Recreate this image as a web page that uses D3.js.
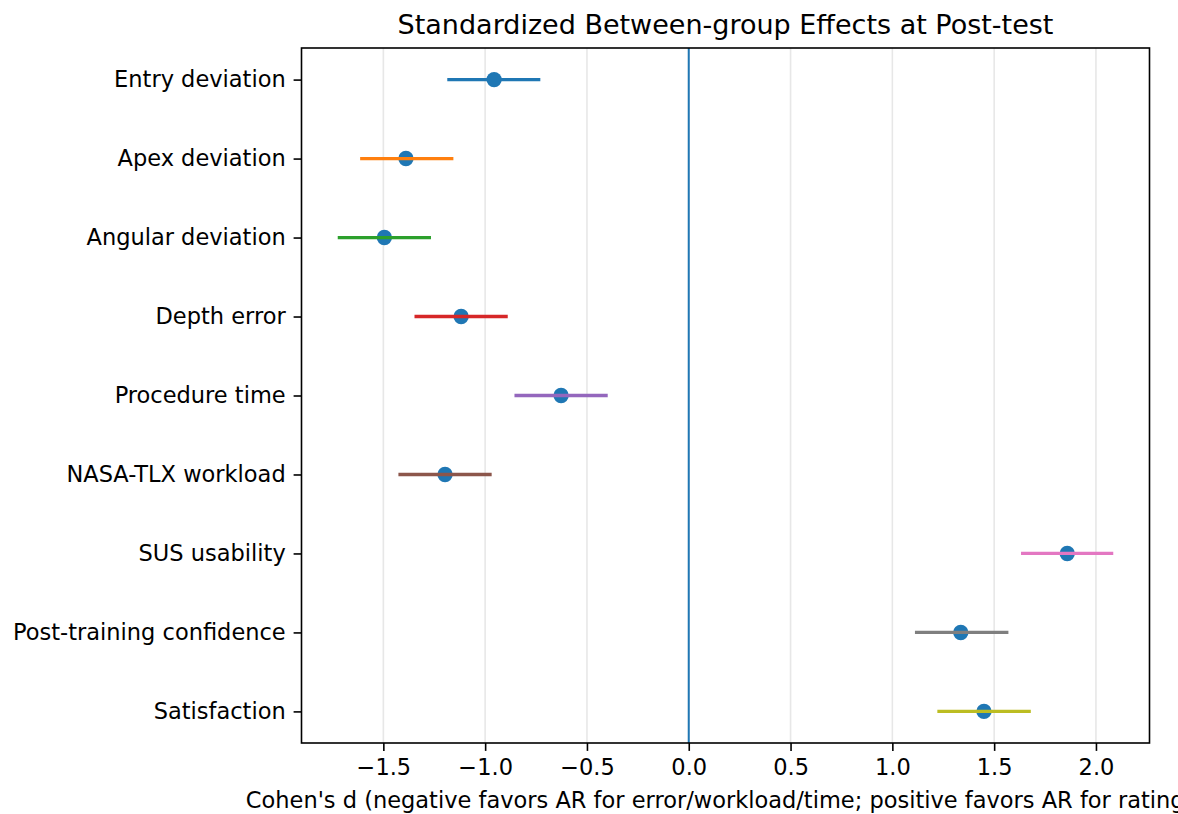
<!DOCTYPE html>
<html><head><meta charset="utf-8">
<script src="https://cdn.jsdelivr.net/npm/d3@7"></script>
<style>
body{margin:0;background:#fff;}
svg{display:block;font-family:"DejaVu Sans",sans-serif;}
</style></head>
<body><svg id="c" width="1178" height="814"></svg>
<script>
const categories = ["Entry deviation","Apex deviation","Angular deviation","Depth error","Procedure time","NASA-TLX workload","SUS usability","Post-training confidence","Satisfaction"];
const effects = [-0.956,-1.389,-1.495,-1.118,-0.627,-1.197,1.859,1.336,1.450];
const ciLow  = [-1.186,-1.614,-1.724,-1.347,-0.856,-1.426,1.632,1.111,1.221];
const ciHigh = [-0.729,-1.156,-1.266,-0.889,-0.398,-0.968,2.085,1.570,1.680];
const lineColors = ["#1f77b4","#ff7f0e","#2ca02c","#d62728","#9467bd","#8c564b","#e377c2","#7f7f7f","#bcbd22"];
const xTicks = [-1.5,-1.0,-0.5,0.0,0.5,1.0,1.5,2.0];

const L=301.5,R=1149.5,T=48,B=743;
const FS=22.5;
const svg=d3.select("#c");
const x=d3.scaleLinear().domain([-1.902,2.263]).range([L,R]);
const y=d3.scaleLinear().domain([-0.4,categories.length-1+0.4]).range([T,B]);

// grid
svg.append("g").selectAll("line").data(xTicks).join("line")
 .attr("x1",d=>x(d)).attr("x2",d=>x(d)).attr("y1",T).attr("y2",B)
 .attr("stroke","#b0b0b0").attr("stroke-opacity",0.3).attr("stroke-width",1.6);

// zero line
svg.append("line").attr("x1",x(0)).attr("x2",x(0)).attr("y1",T).attr("y2",B)
 .attr("stroke","#1f77b4").attr("stroke-width",2);

// points
svg.append("g").selectAll("circle").data(effects).join("circle")
 .attr("cx",d=>x(d)).attr("cy",(d,i)=>y(i)).attr("r",7.7).attr("fill","#1f77b4");

// CI lines
svg.append("g").selectAll("line").data(categories).join("line")
 .attr("x1",(d,i)=>x(ciLow[i])).attr("x2",(d,i)=>x(ciHigh[i]))
 .attr("y1",(d,i)=>y(i)).attr("y2",(d,i)=>y(i))
 .attr("stroke",(d,i)=>lineColors[i]).attr("stroke-width",3.3);

// axes
const xa=svg.append("g").attr("transform",`translate(0,${B})`)
 .call(d3.axisBottom(x).tickValues(xTicks).tickSize(7.9).tickPadding(7.9).tickFormat(d=>d3.format(".1f")(d).replace("-","\u2212")));
const ya=svg.append("g").attr("transform",`translate(${L},0)`)
 .call(d3.axisLeft(y).tickValues(d3.range(categories.length)).tickSize(7.9).tickPadding(7.9).tickFormat(i=>categories[i]));
[xa,ya].forEach(a=>{a.select(".domain").remove();
 a.selectAll(".tick line").attr("stroke","#000").attr("stroke-width",1.6);
 a.selectAll(".tick text").attr("fill","#000").style("font-size",FS+"px").style("font-family","DejaVu Sans");});

// frame
svg.append("rect").attr("x",L).attr("y",T).attr("width",R-L).attr("height",B-T)
 .attr("fill","none").attr("stroke","#000").attr("stroke-width",1.6);

// title
svg.append("text").attr("x",(L+R)/2).attr("y",34).attr("text-anchor","middle")
 .style("font-size","27px").text("Standardized Between-group Effects at Post-test");
// x label
svg.append("text").attr("x",(L+R)/2).attr("y",808).attr("text-anchor","middle")
 .style("font-size",FS+"px").text("Cohen's d (negative favors AR for error/workload/time; positive favors AR for ratings)");
</script></body></html>
